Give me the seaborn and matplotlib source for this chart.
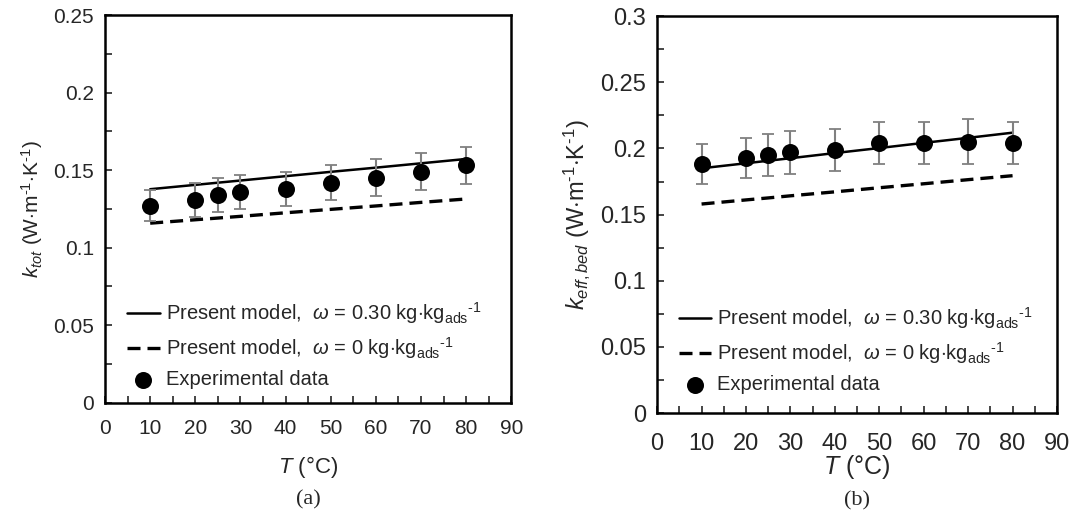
import numpy as np
import pandas as pd
import matplotlib
matplotlib.use("Agg")
import matplotlib.pyplot as plt
from matplotlib.ticker import MultipleLocator, FuncFormatter
import seaborn as sns

# =========================
# Data
# =========================
temps = [10, 20, 25, 30, 40, 50, 60, 70, 80]

# (a) total thermal conductivity
k_tot_exp = [0.127, 0.131, 0.134, 0.136, 0.138, 0.142, 0.145, 0.149, 0.153]
k_tot_err = [0.010, 0.011, 0.011, 0.011, 0.011, 0.011, 0.012, 0.012, 0.012]
k_tot_w30 = [0.1377, 0.1405, 0.1419, 0.1433, 0.1461, 0.1489, 0.1516, 0.1544, 0.1572]
k_tot_w0 = [0.1158, 0.1180, 0.1191, 0.1202, 0.1225, 0.1247, 0.1269, 0.1292, 0.1314]

# (b) effective bed conductivity
k_bed_exp = [0.188, 0.193, 0.195, 0.197, 0.199, 0.204, 0.204, 0.205, 0.204]
k_bed_err = [0.015, 0.015, 0.016, 0.016, 0.016, 0.016, 0.016, 0.017, 0.016]
k_bed_w30 = [0.1850, 0.1888, 0.1907, 0.1926, 0.1965, 0.2003, 0.2042, 0.2080, 0.2119]
k_bed_w0 = [0.1580, 0.1611, 0.1626, 0.1642, 0.1672, 0.1703, 0.1733, 0.1764, 0.1794]

x_ticks = [0, 10, 20, 30, 40, 50, 60, 70, 80, 90]

sns.set_theme(style="ticks")
plt.rcParams['font.family'] = ['Liberation Sans', 'DejaVu Sans']
plt.rcParams['mathtext.fontset'] = 'custom'
plt.rcParams['mathtext.rm'] = 'Liberation Sans'
plt.rcParams['mathtext.it'] = 'Liberation Sans:italic'
plt.rcParams['mathtext.bf'] = 'Liberation Sans:bold'

lbl_w30 = r"Present model,  $\omega$ = 0.30 kg$\cdot$kg$_{\mathrm{ads}}$$^{\mathrm{\text{-}1}}$"
lbl_w0 = r"Present model,  $\omega$ = 0 kg$\cdot$kg$_{\mathrm{ads}}$$^{\mathrm{\text{-}1}}$"
lbl_exp = "Experimental data"

DASH = [3.9, 2.1]


def draw_panel(ax, exp, err, w30, w0, ymax, ylabel, tag, fs, lfs, xpad, xlab_y, tag_y, leg_y):
    df = pd.DataFrame({"T": temps, "exp": exp, "w30": w30, "w0": w0})
    sns.lineplot(data=df, x="T", y="w30", ax=ax, color="black", lw=1.8, label=lbl_w30)
    sns.lineplot(data=df, x="T", y="w0", ax=ax, color="black", lw=2.4, label=lbl_w0)
    ax.lines[-1].set_dashes(DASH)
    ax.errorbar(temps, exp, yerr=err, fmt="none", ecolor="#808080",
                elinewidth=1.5, capsize=4, capthick=1.3, zorder=3)
    sns.scatterplot(data=df, x="T", y="exp", ax=ax, color="black", s=150,
                    edgecolor="black", linewidth=0, label=lbl_exp, zorder=4)

    ax.set_xlim(0, 90)
    ax.set_ylim(0, ymax)
    ax.set_xticks(x_ticks)
    ax.xaxis.set_minor_locator(MultipleLocator(5))
    ax.yaxis.set_major_locator(MultipleLocator(0.05))
    ax.yaxis.set_minor_locator(MultipleLocator(0.025))
    ax.yaxis.set_major_formatter(FuncFormatter(lambda v, p: f"{v:g}"))
    ax.tick_params(which="both", direction="in", labelsize=fs, width=1.2)
    ax.tick_params(which="both", length=5)
    ax.tick_params(axis="y", pad=8)
    ax.tick_params(axis="x", pad=xpad)
    for s in ax.spines.values():
        s.set_linewidth(1.8)
        s.set_color("black")

    ax.set_xlabel(r"$T$ (°C)", fontsize=fs + 1)
    ax.xaxis.set_label_coords(0.5, xlab_y)
    ax.xaxis.label.set_va("center")
    ax.set_ylabel(ylabel, fontsize=fs, labelpad=6)
    ax.text(0.5, tag_y, tag, transform=ax.transAxes, ha="center", va="center",
            fontsize=16, family="Liberation Serif")

    handles, labels = ax.get_legend_handles_labels()
    leg = ax.legend(handles, labels, loc="lower left", frameon=False, fontsize=lfs,
                    handlelength=1.6, handletextpad=0.3, labelspacing=0.45,
                    borderaxespad=0.0, bbox_to_anchor=(0.035, leg_y))
    leg.get_lines()[1].set_dashes(DASH)


fig = plt.figure(figsize=(10.72, 5.19), dpi=100)
ax_a = fig.add_axes([0.098, 0.224, 0.379, 0.747])
ax_b = fig.add_axes([0.613, 0.204, 0.373, 0.765])

draw_panel(ax_a, k_tot_exp, k_tot_err, k_tot_w30, k_tot_w0, 0.25,
           r"$k_{tot}$ (W$\cdot$m$^{\mathrm{\text{-}1}}$$\cdot$K$^{\mathrm{\text{-}1}}$)",
           "(a)", 15, 14.5, 12, -0.165, -0.25, 0.015)
draw_panel(ax_b, k_bed_exp, k_bed_err, k_bed_w30, k_bed_w0, 0.3,
           r"$k_{eff,bed}$ (W$\cdot$m$^{\mathrm{\text{-}1}}$$\cdot$K$^{\mathrm{\text{-}1}}$)",
           "(b)", 17, 14.5, 14, -0.136, -0.22, 0.028)

fig.savefig("out.png", dpi=100)
